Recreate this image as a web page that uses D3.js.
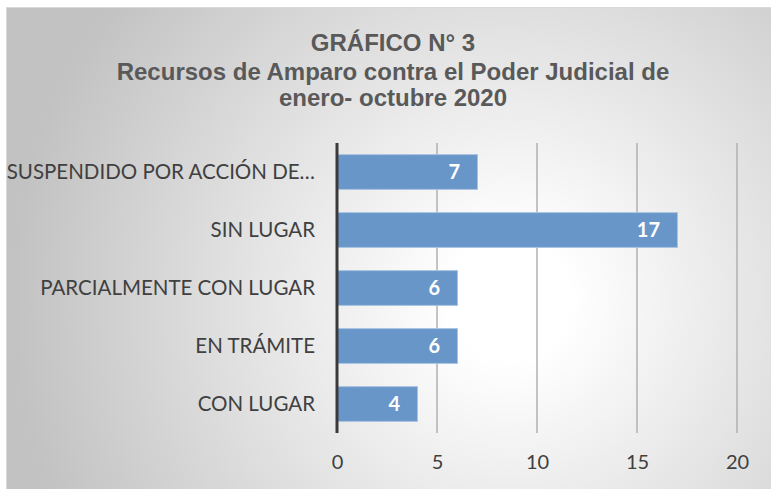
<!DOCTYPE html>
<head>
<meta charset="utf-8">
<style>
  body { margin: 0; background: #fff; }
  svg { display: block; }
  .cat { font-family: Lato, "Open Sans", sans-serif; font-size: 20.5px; fill: #404040; }
  .tick text { font-family: Lato, "Open Sans", sans-serif; font-size: 20px; fill: #404040; }
  .title { font-family: "Liberation Sans", Arial, sans-serif; font-weight: bold; font-size: 24px; fill: #595959; }
  .val { font-family: Lato, "Open Sans", sans-serif; font-weight: bold; font-size: 20px; fill: #fff; }
</style>
</head>
<body>
<svg width="771" height="489"></svg>
<script src="https://d3js.org/d3.v7.min.js"></script>
<script>

// data
var categories = ["SUSPENDIDO POR ACCIÓN DE…", "SIN LUGAR", "PARCIALMENTE CON LUGAR", "EN TRÁMITE", "CON LUGAR"];
var values = [7, 17, 6, 6, 4];
var xTicks = [0, 5, 10, 15, 20];
var titleLines = ["GRÁFICO N° 3", "Recursos de Amparo contra el Poder Judicial de", "enero- octubre 2020"];

var svg = d3.select("svg");

// background panel with radial gradient
var defs = svg.append("defs");
var grad = defs.append("radialGradient")
    .attr("id", "bg")
    .attr("gradientUnits", "userSpaceOnUse")
    .attr("cx", 510).attr("cy", 300).attr("r", 500);
grad.append("stop").attr("offset", "0").attr("stop-color", "#ffffff");
grad.append("stop").attr("offset", "0.12").attr("stop-color", "#ffffff");
grad.append("stop").attr("offset", "1").attr("stop-color", "#c2c2c2");

svg.append("rect")
    .attr("x", 6.5).attr("y", 7.5)
    .attr("width", 775).attr("height", 490)
    .attr("fill", "url(#bg)")
    .attr("stroke", "#d9d9d9");

// titles
svg.selectAll(".title")
  .data(titleLines)
  .enter().append("text")
    .attr("class", "title")
    .attr("x", 393)
    .attr("y", function(d, i) { return [51, 80, 106][i]; })
    .attr("text-anchor", "middle")
    .text(function(d) { return d; });

var margin = {left: 337, top: 143, right: 34, bottom: 56};
var width = 400, height = 290;

var g = svg.append("g").attr("transform", "translate(" + margin.left + "," + margin.top + ")");

var x = d3.scaleLinear().domain([0, 20]).range([0, width]);
var y = d3.scaleBand().domain(categories).range([0, height]).paddingInner(0.4).paddingOuter(0.2);

// gridlines
g.selectAll(".grid")
  .data(xTicks.slice(1))
  .enter().append("line")
    .attr("x1", function(d) { return x(d); })
    .attr("x2", function(d) { return x(d); })
    .attr("y1", 0).attr("y2", height)
    .attr("stroke", "#b0b0b0")
    .attr("stroke-width", 1.5);

// x axis labels
var xAxis = g.append("g")
    .attr("transform", "translate(0," + height + ")")
    .call(d3.axisBottom(x).tickValues(xTicks).tickSize(0).tickPadding(22));
xAxis.select(".domain").remove();

// bars
g.selectAll(".bar")
  .data(values)
  .enter().append("rect")
    .attr("x", 0.5)
    .attr("y", function(d, i) { return y(categories[i]); })
    .attr("width", function(d) { return x(d); })
    .attr("height", y.bandwidth())
    .attr("fill", "#6896c9")
    .attr("stroke", "#a8c3e3")
    .attr("stroke-width", 1);

// value labels
g.selectAll(".val")
  .data(values)
  .enter().append("text")
    .attr("class", "val")
    .attr("x", function(d) { return x(d) - 17; })
    .attr("y", function(d, i) { return y(categories[i]) + y.bandwidth() / 2; })
    .attr("dy", "0.36em")
    .attr("text-anchor", "end")
    .text(function(d) { return d; });

// category labels
g.selectAll(".cat")
  .data(categories)
  .enter().append("text")
    .attr("class", "cat")
    .attr("x", -22)
    .attr("y", function(d) { return y(d) + y.bandwidth() / 2; })
    .attr("dy", "0.36em")
    .attr("text-anchor", "end")
    .text(function(d) { return d; });

// vertical axis line
g.append("line")
    .attr("x1", 0).attr("x2", 0)
    .attr("y1", 0).attr("y2", height)
    .attr("stroke", "#3a3a3a")
    .attr("stroke-width", 3);

</script>
</body>
